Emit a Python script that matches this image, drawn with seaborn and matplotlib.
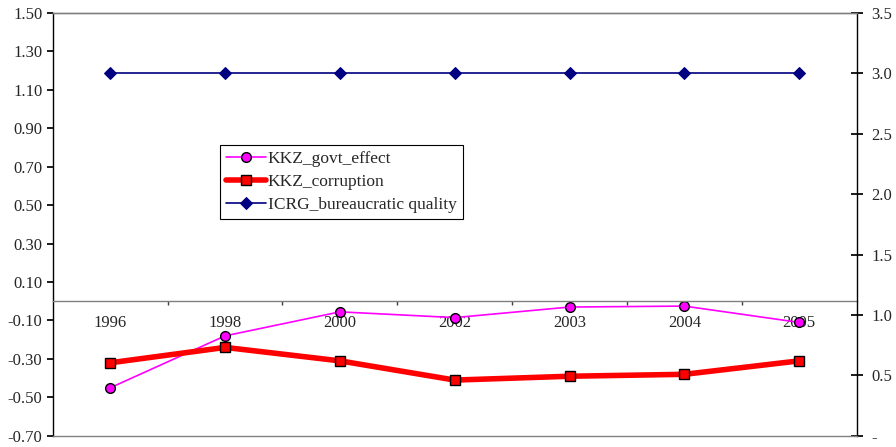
import numpy as np
import pandas as pd
import seaborn as sns
import matplotlib
matplotlib.use("Agg")
import matplotlib.pyplot as plt
from matplotlib.ticker import FuncFormatter, FixedLocator

# values
years = ["1996", "1998", "2000", "2002", "2003", "2004", "2005"]
govt_effect = [-0.45, -0.18, -0.055, -0.085, -0.03, -0.025, -0.11]
corruption = [-0.32, -0.24, -0.31, -0.41, -0.39, -0.38, -0.31]
bureau_quality = [3.0, 3.0, 3.0, 3.0, 3.0, 3.0, 3.0]

left_ticks = [-0.70, -0.50, -0.30, -0.10, 0.10, 0.30, 0.50, 0.70, 0.90, 1.10, 1.30, 1.50]
right_ticks = [0.0, 0.5, 1.0, 1.5, 2.0, 2.5, 3.0, 3.5]

df = pd.DataFrame({
    "pos": np.arange(len(years)),
    "KKZ_govt_effect": govt_effect,
    "KKZ_corruption": corruption,
    "ICRG_bureaucratic quality": bureau_quality,
})

sns.set_theme(style="white")
plt.rcParams['font.family'] = ['Liberation Serif', 'DejaVu Serif']

fig = plt.figure(figsize=(8.96, 4.47), dpi=100)
ax = fig.add_axes([0.059, 0.025, 0.897, 0.946])
ax2 = ax.twinx()

# 1. Left axis series
sns.lineplot(data=df, x="pos", y="KKZ_govt_effect", ax=ax, color="#ff00ff", lw=1.2,
             marker="o", markersize=7, markerfacecolor="#ff00ff", markeredgecolor="black",
             markeredgewidth=1, label="KKZ_govt_effect")
sns.lineplot(data=df, x="pos", y="KKZ_corruption", ax=ax, color="#ff0000", lw=4,
             marker="s", markersize=7, markerfacecolor="#ff0000", markeredgecolor="black",
             markeredgewidth=1, label="KKZ_corruption")

# 2. Right axis series
sns.lineplot(data=df, x="pos", y="ICRG_bureaucratic quality", ax=ax2, color="#000080", lw=1.2,
             marker="D", markersize=6, markerfacecolor="#000080", markeredgecolor="#000080",
             label="ICRG_bureaucratic quality")

ax.set_xlim(-0.5, len(years) - 0.5)
ax.set_ylim(-0.70, 1.50)
ax2.set_ylim(0, 3.5)

# 3. Axes styling
ax.set_xlabel("")
ax.set_ylabel("")
ax2.set_ylabel("")

ax.spines["bottom"].set_position(("data", 0))
ax.spines["bottom"].set_color("#808080")
ax.spines["top"].set_color("#808080")
ax.spines["right"].set_visible(False)
ax.spines["left"].set_color("black")
for s in ax.spines.values():
    s.set_linewidth(1)

ax2.spines["left"].set_visible(False)
ax2.spines["top"].set_color("#808080")
ax2.spines["bottom"].set_color("#808080")
ax2.spines["right"].set_color("black")
for s in ax2.spines.values():
    s.set_linewidth(1)

ax.set_xticks(np.arange(len(years)))
ax.set_xticklabels(years)
ax.xaxis.set_minor_locator(FixedLocator(np.arange(0.5, len(years) - 1, 1.0)))
ax.tick_params(axis="x", which="major", length=0, pad=10, labelsize=12)
ax.tick_params(axis="x", which="minor", bottom=True, length=3, direction="out", color="#404040")

ax.set_yticks(left_ticks)
ax.yaxis.set_major_formatter(FuncFormatter(lambda v, p: f"{v:.2f}"))
ax.tick_params(axis="y", left=True, length=4, direction="out", color="black", labelsize=12, pad=3.5)

ax2.set_yticks(right_ticks)
ax2.yaxis.set_major_formatter(FuncFormatter(lambda v, p: "-" if abs(v) < 1e-9 else f"{v:.1f}"))
ax2.tick_params(axis="y", right=True, length=8, direction="inout", color="black", labelsize=12, pad=6.5)

ax.grid(False)
ax2.grid(False)

# 4. Legend combining both axes
h1, l1 = ax.get_legend_handles_labels()
h2, l2 = ax2.get_legend_handles_labels()
if ax.get_legend():
    ax.get_legend().remove()
if ax2.get_legend():
    ax2.get_legend().remove()
leg = ax2.legend(h1 + h2, l1 + l2, loc="upper left", bbox_to_anchor=(0.208, 0.688),
                 borderaxespad=0, fontsize=12.5, frameon=True, fancybox=False,
                 handlelength=2.3, handletextpad=0.1, labelspacing=0.4,
                 borderpad=0.35)
leg.get_frame().set_edgecolor("black")
leg.get_frame().set_linewidth(0.8)
leg.get_frame().set_alpha(1)

fig.savefig("out.png", dpi=100)
